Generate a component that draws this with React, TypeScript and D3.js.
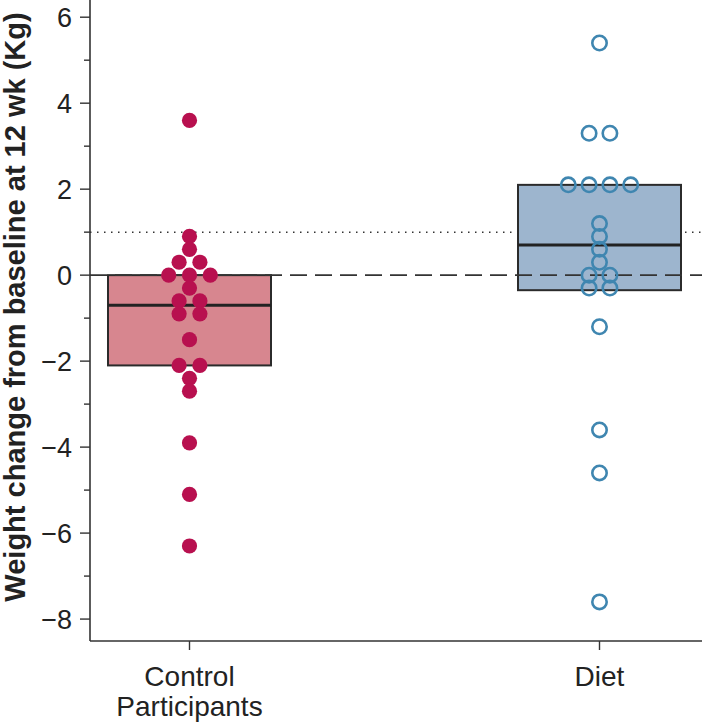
import React, { useEffect, useRef } from "react";
import * as d3 from "d3";

// groups shown on the x axis
const groups = ["Control Participants", "Diet"];
const groupLabels = [["Control", "Participants"], ["Diet"]];

// individual weight changes (kg)
const controlValues = [3.6, 0.9, 0.6, 0.3, 0.3, 0, 0, 0, -0.3, -0.6, -0.6, -0.9, -0.9, -1.5, -2.1, -2.1, -2.4, -2.7, -3.9, -5.1, -6.3];
const dietValues = [5.4, 3.3, 3.3, 2.1, 2.1, 2.1, 2.1, 1.2, 0.9, 0.6, 0.3, 0, 0, -0.3, -0.3, -1.2, -3.6, -4.6, -7.6];

// box: [lower, median, upper]
const controlBox = [-2.1, -0.7, 0];
const dietBox = [-0.35, 0.7, 2.1];

const yMajorTicks = [-8, -6, -4, -2, 0, 2, 4, 6];
const yMinorTicks = [-7, -5, -3, -1, 1, 3, 5];

const FONT = "'Liberation Sans', Arial, Helvetica, sans-serif";

const App = () => {
  const ref = useRef<SVGSVGElement>(null);

  const W = 702;
  const H = 724;
  const axisX = 90;
  const axisBottom = 641;

  useEffect(() => {
    const svg = d3.select(ref.current);
    svg.selectAll("*").remove();

    const yScale = d3.scaleLinear().domain([-8.51, 6.4]).range([axisBottom, 0]);
    const xScale = d3.scalePoint<string>().domain(groups).range([189.5, 599.5]);

    const boxWidth = 163;
    const dotGap = 20.8;

    const series = [
      { key: groups[0], values: controlValues, box: controlBox, fill: "#d7868f", dot: "#b8104f", filled: true },
      { key: groups[1], values: dietValues, box: dietBox, fill: "#9db5ce", dot: "#3f86b0", filled: false },
    ];

    // reference lines
    svg
      .append("line")
      .attr("x1", axisX)
      .attr("x2", W)
      .attr("y1", yScale(1))
      .attr("y2", yScale(1))
      .attr("stroke", "#333")
      .attr("stroke-width", 1.5)
      .attr("stroke-dasharray", "1.5,5.5");

    // boxes
    series.forEach((s) => {
      const cx = xScale(s.key)!;
      svg
        .append("rect")
        .attr("x", cx - boxWidth / 2)
        .attr("y", yScale(s.box[2]))
        .attr("width", boxWidth)
        .attr("height", yScale(s.box[0]) - yScale(s.box[2]))
        .attr("fill", s.fill)
        .attr("stroke", "#2b2b2b")
        .attr("stroke-width", 2);
    });

    svg
      .append("line")
      .attr("x1", axisX)
      .attr("x2", W)
      .attr("y1", yScale(0))
      .attr("y2", yScale(0))
      .attr("stroke", "#333")
      .attr("stroke-width", 1.6)
      .attr("stroke-dasharray", "17,8");

    series.forEach((s) => {
      const cx = xScale(s.key)!;
      svg
        .append("line")
        .attr("x1", cx - boxWidth / 2)
        .attr("x2", cx + boxWidth / 2)
        .attr("y1", yScale(s.box[1]))
        .attr("y2", yScale(s.box[1]))
        .attr("stroke", "#222")
        .attr("stroke-width", 3);
    });

    // points, spread sideways when values tie
    series.forEach((s) => {
      const counts = d3.rollup(s.values, (v) => v.length, (d) => d);
      const seen = new Map<number, number>();
      const pts = s.values.map((v) => {
        const n = counts.get(v)!;
        const i = seen.get(v) || 0;
        seen.set(v, i + 1);
        return { v, x: xScale(s.key)! + (i - (n - 1) / 2) * dotGap };
      });
      svg
        .append("g")
        .selectAll("circle")
        .data(pts)
        .join("circle")
        .attr("cx", (d) => d.x)
        .attr("cy", (d) => yScale(d.v))
        .attr("r", s.filled ? 7.6 : 7.2)
        .attr("fill", s.filled ? s.dot : "none")
        .attr("stroke", s.filled ? "none" : s.dot)
        .attr("stroke-width", 2.6);
    });

    // y axis
    const yAxis = svg.append("g").attr("transform", `translate(${axisX},0)`);
    yAxis
      .append("line")
      .attr("x1", 0)
      .attr("x2", 0)
      .attr("y1", 0)
      .attr("y2", axisBottom)
      .attr("stroke", "#333")
      .attr("stroke-width", 1.6);
    yAxis
      .selectAll(".major")
      .data(yMajorTicks)
      .join("line")
      .attr("x1", -10)
      .attr("x2", 0)
      .attr("y1", (d) => yScale(d))
      .attr("y2", (d) => yScale(d))
      .attr("stroke", "#333")
      .attr("stroke-width", 1.4);
    yAxis
      .selectAll(".minor")
      .data(yMinorTicks)
      .join("line")
      .attr("x1", -6)
      .attr("x2", 0)
      .attr("y1", (d) => yScale(d))
      .attr("y2", (d) => yScale(d))
      .attr("stroke", "#333")
      .attr("stroke-width", 1.4);
    yAxis
      .selectAll("text")
      .data(yMajorTicks)
      .join("text")
      .attr("x", -18)
      .attr("y", (d) => yScale(d))
      .attr("dy", "0.36em")
      .attr("text-anchor", "end")
      .attr("font-family", FONT)
      .attr("font-size", 27)
      .attr("fill", "#222")
      .text((d) => (d < 0 ? "\u2212" + Math.abs(d) : String(d)));

    svg
      .append("text")
      .attr("transform", `translate(25,${307}) rotate(-90)`)
      .attr("text-anchor", "middle")
      .attr("font-family", FONT)
      .attr("font-weight", "bold")
      .attr("font-size", 29)
      .attr("fill", "#222")
      .text("Weight change from baseline at 12 wk (Kg)");

    // x axis
    svg
      .append("line")
      .attr("x1", axisX)
      .attr("x2", W)
      .attr("y1", axisBottom)
      .attr("y2", axisBottom)
      .attr("stroke", "#333")
      .attr("stroke-width", 1.6);
    groups.forEach((g, gi) => {
      const cx = xScale(g)!;
      svg
        .append("line")
        .attr("x1", cx)
        .attr("x2", cx)
        .attr("y1", axisBottom)
        .attr("y2", axisBottom + 9)
        .attr("stroke", "#333")
        .attr("stroke-width", 1.4);
      groupLabels[gi].forEach((line, li) => {
        svg
          .append("text")
          .attr("x", cx)
          .attr("y", 686 + li * 30)
          .attr("text-anchor", "middle")
          .attr("font-family", FONT)
          .attr("font-size", 28)
          .attr("fill", "#222")
          .text(line);
      });
    });
  }, []);

  return (
    <svg
      ref={ref}
      width={W}
      height={H}
      style={{ position: "absolute", left: 0, top: 0, background: "#fff" }}
    ></svg>
  );
};

export default App;
